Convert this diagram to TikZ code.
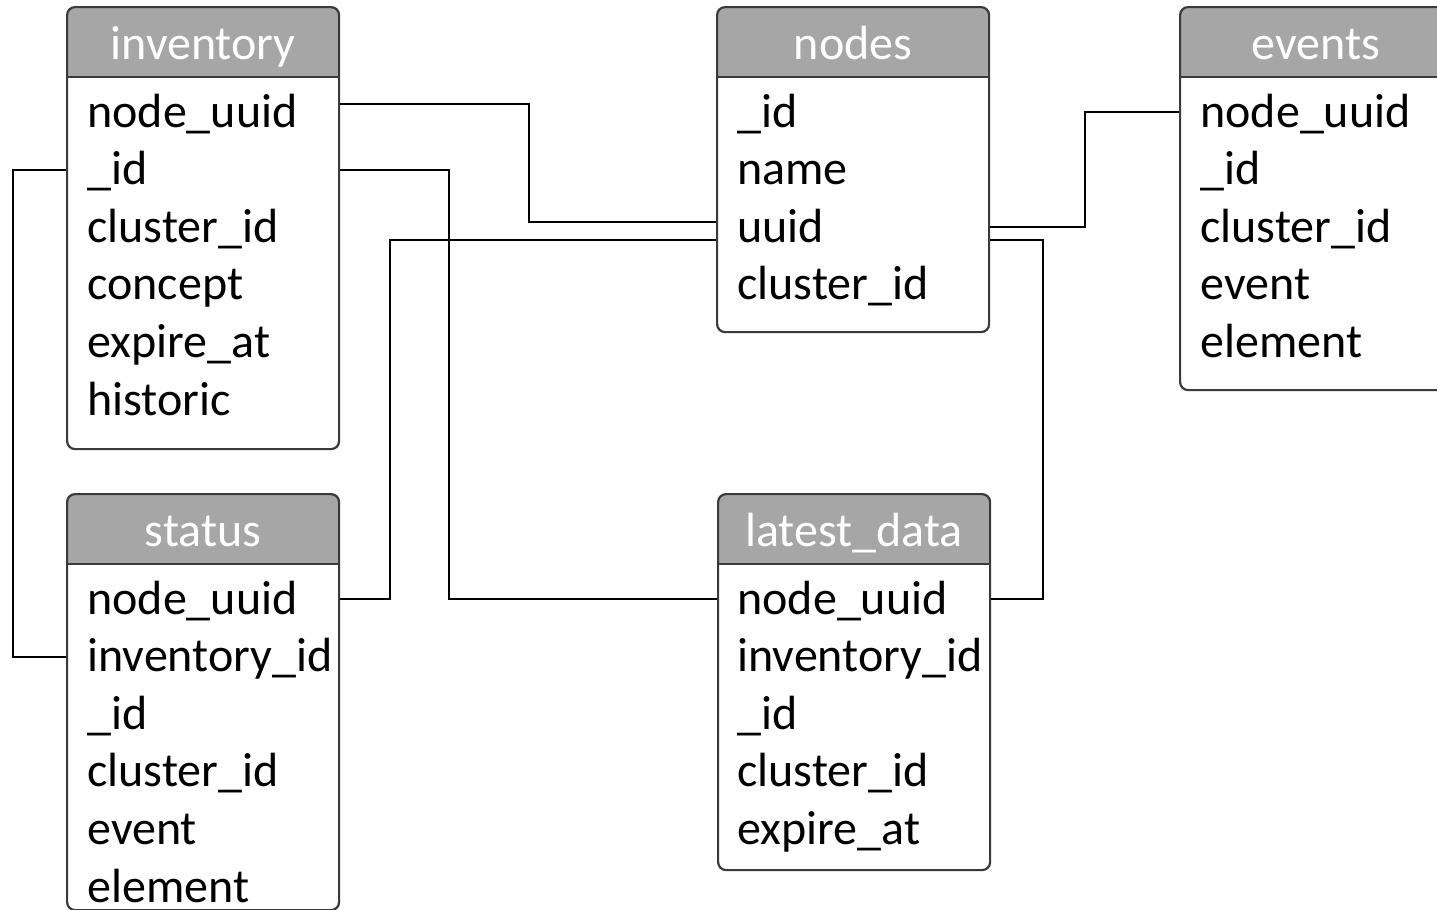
\documentclass[tikz,border=0pt]{standalone}
\usepackage{fontspec}
\setmainfont{Carlito}
\usetikzlibrary{calc}

\definecolor{headgray}{HTML}{A6A6A6}
\definecolor{framegray}{HTML}{3A3A3A}

\begin{document}
\begin{tikzpicture}[
  x=0.5pt, y=-0.5pt,
  table/.style={draw=framegray, line width=1.1pt, rounded corners=4pt, anchor=north west, inner sep=0pt, minimum width=136pt,
    path picture={\fill[headgray, sharp corners] (path picture bounding box.north west) rectangle ([yshift=-35pt]path picture bounding box.north east);
      \draw[framegray, line width=1.1pt, sharp corners] ([yshift=-35pt]path picture bounding box.north west) -- ([yshift=-35pt]path picture bounding box.north east);}},
  title/.style={anchor=base, inner sep=0pt, text=white, font=\fontsize{24}{28}\selectfont},
  field/.style={anchor=base west, inner sep=0pt, text height=15pt, text depth=0pt, font=\fontsize{24}{28}\selectfont},
  link/.style={draw=black, line width=1pt}
]
  \useasboundingbox (0,0) rectangle (1437,910);

  % tables
  \node[table, minimum height=221pt] (inv) at (66,6) {};
  \node[title] (inv-t) at ([yshift=-26.5pt]inv.north) {inventory};
  \foreach \f [count=\i] in {node\_uuid, \_id, cluster\_id, concept, expire\_at, historic} {
    \pgfmathsetmacro\dy{-60.5-(\i-1)*28.8}
    \node[field] (inv-\i) at ([xshift=10.5pt, yshift=\dy pt]inv.north west) {\f};
  }

  \node[table, minimum height=162.5pt] (nod) at (716,6) {};
  \node[title] (nod-t) at ([yshift=-26.5pt]nod.north) {nodes};
  \foreach \f [count=\i] in {\_id, name, uuid, cluster\_id} {
    \pgfmathsetmacro\dy{-60.5-(\i-1)*28.8}
    \node[field] (nod-\i) at ([xshift=10.5pt, yshift=\dy pt]nod.north west) {\f};
  }

  \node[table, minimum height=191.5pt] (evt) at (1179,6) {};
  \node[title] (evt-t) at ([yshift=-26.5pt]evt.north) {events};
  \foreach \f [count=\i] in {node\_uuid, \_id, cluster\_id, event, element} {
    \pgfmathsetmacro\dy{-60.5-(\i-1)*28.8}
    \node[field] (evt-\i) at ([xshift=10.5pt, yshift=\dy pt]evt.north west) {\f};
  }

  \node[table, minimum height=208pt] (sta) at (66,493) {};
  \node[title] (sta-t) at ([yshift=-26.5pt]sta.north) {status};
  \foreach \f [count=\i] in {node\_uuid, inventory\_id, \_id, cluster\_id, event, element} {
    \pgfmathsetmacro\dy{-60.5-(\i-1)*28.8}
    \node[field] (sta-\i) at ([xshift=10.5pt, yshift=\dy pt]sta.north west) {\f};
  }

  \node[table, minimum height=188pt] (lat) at (717,493) {};
  \node[title] (lat-t) at ([yshift=-26.5pt]lat.north) {latest\_data};
  \foreach \f [count=\i] in {node\_uuid, inventory\_id, \_id, cluster\_id, expire\_at} {
    \pgfmathsetmacro\dy{-60.5-(\i-1)*28.8}
    \node[field] (lat-\i) at ([xshift=10pt, yshift=\dy pt]lat.north west) {\f};
  }

  % relations
  \draw[link] ($(inv.east |- inv-1)+(0,4pt)$) -- ++(94.5pt,0) |- ($(nod.west |- nod-3)+(0,2.5pt)$);
  \draw[link] (inv.east |- inv-2) -- ++(54.5pt,0) |- (lat.west |- lat-1);
  \draw[link] (sta.east |- sta-1) -- ++(25pt,0) |- ($(nod.west |- nod-3)+(0,-6.5pt)$);
  \draw[link] (inv.west |- inv-2) -- ++(-26.5pt,0) |- (sta.west |- sta-2);
  \draw[link] (nod.east |- nod-3) -- ++(47.5pt,0) |- (evt.west |- evt-1);
  \draw[link] ($(nod.east |- nod-3)+(0,-6.5pt)$) -- ++(26.5pt,0) |- (lat.east |- lat-1);
\end{tikzpicture}
\end{document}
